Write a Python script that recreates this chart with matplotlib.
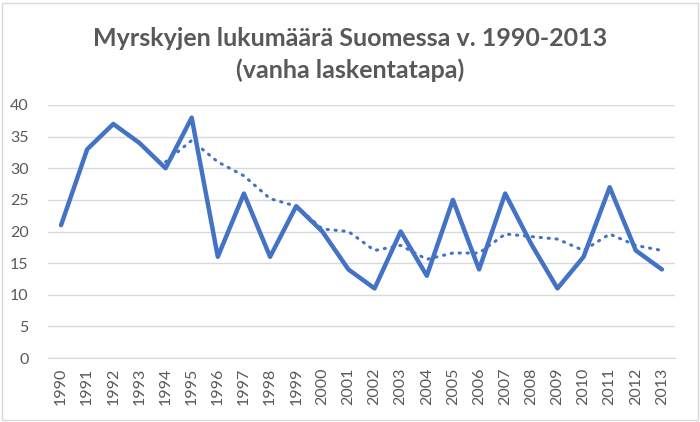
import matplotlib
matplotlib.use("Agg")
import matplotlib.pyplot as plt
from matplotlib.patches import Rectangle

years = ["1990", "1991", "1992", "1993", "1994", "1995", "1996", "1997", "1998", "1999",
         "2000", "2001", "2002", "2003", "2004", "2005", "2006", "2007", "2008", "2009",
         "2010", "2011", "2012", "2013"]
storms = [21, 33, 37, 34, 30, 38, 16, 26, 16, 24, 20, 14, 11, 20, 13, 25, 14, 26, 18, 11,
          16, 27, 17, 14]
# moving-average trend (dotted), starting 1994
trend_years = years[4:]
trend = [31, 34.4, 31, 28.8, 25.2, 24, 20.4, 20, 17, 17.8, 15.6, 16.6, 16.6, 19.6, 19.2,
         18.8, 17, 19.6, 17.8, 17]
yticks = [0, 5, 10, 15, 20, 25, 30, 35, 40]

plt.rcParams['font.family'] = ['Lato', 'DejaVu Sans']
fig = plt.figure(figsize=(7, 4.22), dpi=100)
ax = fig.add_axes([48/700, 1-358/422, (675-48)/700, (358-105)/422])

xs = list(range(len(years)))
tx = [years.index(y) for y in trend_years]
blue = "#4472C4"
ax.plot(tx, trend, color=blue, lw=2.2, linestyle=(0, (0.4, 2.2)), dash_capstyle='round', zorder=3)
ax.plot(xs, storms, color=blue, lw=3.2, solid_joinstyle='round', solid_capstyle='round', zorder=4)

ax.set_xlim(-0.5, len(years) - 0.5)
ax.set_ylim(0, 40)
ax.set_yticks(yticks)
ax.set_xticks(xs)
ax.set_xticklabels(years, rotation=90)
ax.grid(axis='y', color='#D9D9D9', lw=1)
ax.set_axisbelow(True)
for s in ['top', 'right', 'left']:
    ax.spines[s].set_visible(False)
ax.spines['bottom'].set_color('#D9D9D9')
ax.tick_params(axis='both', length=0, colors='#595959', labelsize=11.5)
ax.tick_params(axis='y', pad=14)
ax.tick_params(axis='x', pad=7)

fig.text(0.5, 1-38/422, "Myrskyjen lukumäärä Suomessa v. 1990-2013", ha='center', va='center',
         fontsize=18, fontweight='bold', color='#595959')
fig.text(0.5, 1-70/422, "(vanha laskentatapa)", ha='center', va='center',
         fontsize=18, fontweight='bold', color='#595959')

fig.patches.append(Rectangle((2/700, 2/422), 1-4/700, 1-5/422, transform=fig.transFigure,
                             fill=False, edgecolor='#D9D9D9', lw=1))
fig.savefig("out.png", dpi=100, facecolor='white')
